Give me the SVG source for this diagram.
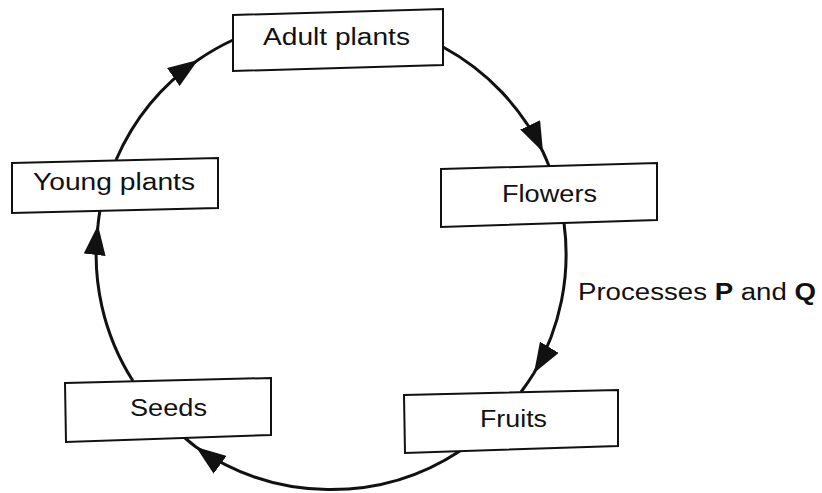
<svg xmlns="http://www.w3.org/2000/svg" width="822" height="493" viewBox="0 0 822 493">
<defs>
<style>
.box{fill:#fff;stroke:#111;stroke-width:2}
.lbl{font-family:"Liberation Sans",Arial,sans-serif;font-size:23px;fill:#111}
.conn{fill:none;stroke:#111;stroke-width:3;marker-mid:url(#ah)}
</style>
<marker id="ah" markerUnits="userSpaceOnUse" markerWidth="30" markerHeight="22" refX="30" refY="11" orient="auto" viewBox="0 0 30 22">
<path d="M0,0 L30,11 L0,22 Z" fill="#111"/>
</marker>
</defs>
<rect width="822" height="493" fill="#fff"/>
<g id="connectors">
<path class="conn" d="M116,160 A235,235 0 0 1 198,60 A235,235 0 0 1 233,40"/>
<path class="conn" d="M443,47 A235,235 0 0 1 543,152 A235,235 0 0 1 549,166"/>
<path class="conn" d="M564,223 A235,235 0 0 1 534,373 A235,235 0 0 1 521,392"/>
<path class="conn" d="M460,451 A235,235 0 0 1 196,447 A235,235 0 0 1 185,438"/>
<path class="conn" d="M133,381 A235,235 0 0 1 98,225 A235,235 0 0 1 100,210"/>
</g>
<g id="adult-plants">
<polygon class="box" points="233,15 443,9 443,65 233,71"/>
<text class="lbl" x="263" y="45" textLength="147" lengthAdjust="spacingAndGlyphs">Adult plants</text>
</g>
<g id="flowers">
<polygon class="box" points="441,169 657,163 657,220 441,227"/>
<text class="lbl" x="502" y="202" textLength="95" lengthAdjust="spacingAndGlyphs">Flowers</text>
</g>
<g id="fruits">
<polygon class="box" points="404,395 618,390 618,446 405,453"/>
<text class="lbl" x="480" y="427" textLength="67" lengthAdjust="spacingAndGlyphs">Fruits</text>
</g>
<g id="seeds">
<polygon class="box" points="65,383 271,378 271,435 66,442"/>
<text class="lbl" x="130" y="416" textLength="77" lengthAdjust="spacingAndGlyphs">Seeds</text>
</g>
<g id="young-plants">
<polygon class="box" points="12,163 218,158 218,208 12,213"/>
<text class="lbl" x="33" y="190" textLength="162" lengthAdjust="spacingAndGlyphs">Young plants</text>
</g>
<g id="label-pq">
<text class="lbl" x="578" y="300" textLength="238" lengthAdjust="spacingAndGlyphs">Processes <tspan font-weight="bold">P</tspan> and <tspan font-weight="bold">Q</tspan></text>
</g>
</svg>
